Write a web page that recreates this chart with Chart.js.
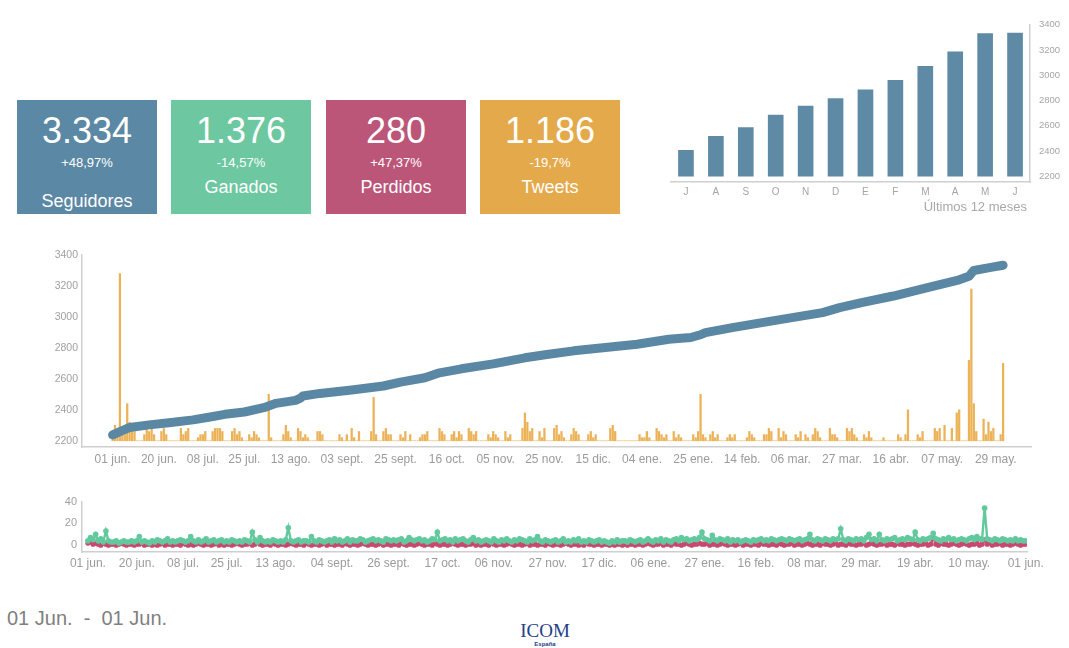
<!DOCTYPE html>
<html>
<head>
<meta charset="utf-8">
<script src="https://cdn.jsdelivr.net/npm/chart.js@4.4.0/dist/chart.umd.min.js"></script>
<style>
  body { margin: 0; width: 1069px; height: 648px; background: #fff; position: relative; overflow: hidden;
         font-family: 'Liberation Sans', Arial, sans-serif; }
  .box { position: absolute; top: 100px; width: 140px; height: 114px; color: #fff; text-align: center; }
  .num { position: absolute; left: 0; right: 0; top: 10px; font-size: 36px; line-height: 42px; }
  .pct { position: absolute; left: 0; right: 0; top: 54px; font-size: 13px; line-height: 18px; }
  .lbl { position: absolute; left: 0; right: 0; top: 76px; font-size: 18px; line-height: 22px; }
  canvas { position: absolute; }
  #range { position: absolute; left: 7px; top: 607px; font-size: 20px; color: #808080; white-space: pre; }
  #logo { position: absolute; left: 505px; top: 621px; width: 80px; text-align: center; color: #23408a; }
  #logo .t { font-family: 'Liberation Serif', 'DejaVu Serif', serif; font-size: 19px; line-height: 20px; }
  #logo .s { font-size: 6px; font-weight: bold; line-height: 7px; }
  #months { position: absolute; right: 42px; top: 199px; font-size: 13px; color: #a8a8a8; }
</style>
</head>
<body>
<div class="box" style="left:17px; background:#5b88a4;">
  <div class="num">3.334</div><div class="pct">+48,97%</div><div class="lbl" style="top:90px;">Seguidores</div>
</div>
<div class="box" style="left:171px; background:#6dc7a0;">
  <div class="num">1.376</div><div class="pct">-14,57%</div><div class="lbl">Ganados</div>
</div>
<div class="box" style="left:326px; background:#bc5679;">
  <div class="num">280</div><div class="pct">+47,37%</div><div class="lbl">Perdidos</div>
</div>
<div class="box" style="left:480px; background:#e4a94b;">
  <div class="num">1.186</div><div class="pct">-19,7%</div><div class="lbl">Tweets</div>
</div>

<canvas id="monthChart" width="409" height="195" style="left:660px; top:10px;"></canvas>
<div id="months">Últimos 12 meses</div>
<canvas id="mainChart" width="1069" height="235" style="left:0; top:240px;"></canvas>
<canvas id="dailyChart" width="1069" height="90" style="left:0; top:490px;"></canvas>

<div id="range">01 Jun.  -  01 Jun.</div>
<div id="logo"><div class="t">ICOM</div><div class="s">España</div></div>

<script>
// last 12 months (followers at month end)
var monthLabels = ['J', 'A', 'S', 'O', 'N', 'D', 'E', 'F', 'M', 'A', 'M', 'J'];
var monthFollowers = [2405, 2515, 2585, 2685, 2755, 2815, 2885, 2960, 3070, 3185, 3330, 3334];
var monthTicks = [2200, 2400, 2600, 2800, 3000, 3200, 3400];

// followers line, sampled (day index from 01 jun.)
var followerDays = [0, 7, 15, 24, 33, 40, 46, 54, 62, 67, 75, 77, 78, 85, 98, 111, 118, 128, 134, 143,
  156, 169, 178, 189, 202, 215, 228, 237, 241, 243, 254, 268, 281, 291, 298, 307, 320, 334, 347, 351,
  353, 360, 365];
var followers = [2238, 2286, 2303, 2318, 2335, 2354, 2371, 2386, 2414, 2442, 2461, 2475, 2489, 2506, 2528, 2554, 2579, 2607, 2639, 2665,
  2697, 2736, 2757, 2781, 2802, 2824, 2856, 2867, 2885, 2899, 2931, 2968, 3002, 3028, 3060, 3093, 3135, 3190, 3240, 3262,
  3300, 3320, 3334];

// tweets per day
var tweets = [
  3,5,2,54,3,2,12,6,4,3,0,0,0,2,4,3,4,2,0,0,
  3,4,2,0,0,0,0,0,4,2,3,4,0,0,0,1,2,2,3,0,
  0,3,4,4,4,3,0,0,0,3,4,2,3,1,0,0,2,1,3,2,
  1,0,0,0,15,1,0,0,0,0,2,5,3,1,0,0,4,3,1,2,
  1,0,0,0,3,3,2,0,0,0,0,0,0,2,1,0,2,0,4,1,
  0,3,0,0,0,0,3,14,2,0,0,3,4,2,2,0,0,0,2,1,
  3,0,2,0,0,0,1,2,2,3,0,0,0,0,4,3,2,0,0,2,
  3,1,3,2,0,0,4,3,2,3,0,0,0,0,2,1,3,2,1,0,
  0,3,1,2,0,0,0,0,4,9,6,3,4,0,0,3,1,4,0,0,
  0,4,5,2,3,1,0,0,2,4,3,2,0,0,0,2,3,1,2,0,
  0,0,0,0,4,5,3,0,0,0,0,0,0,0,0,0,2,1,1,3,
  1,0,0,4,3,2,1,2,0,0,3,1,2,1,0,0,0,0,2,1,
  3,15,2,1,0,2,3,1,2,0,0,0,1,2,1,2,0,0,0,0,
  1,3,2,1,0,0,0,2,2,4,3,0,0,4,1,3,2,0,0,0,
  2,1,3,0,2,1,0,2,4,3,1,0,0,0,4,2,2,1,0,0,
  0,4,3,4,2,1,0,0,2,1,3,1,0,0,0,0,1,0,0,0,
  0,0,2,1,0,2,10,0,0,0,2,1,3,0,0,0,0,4,3,4,
  0,5,0,0,4,0,9,10,0,0,0,26,49,12,3,0,0,7,2,6,
  3,4,0,0,2,25
];

// followers gained / lost per day
var gained = [
  4,7,5,10,4,6,3,13,4,3,3,4,2,3,4,3,3,4,3,4,
  8,3,4,3,2,4,3,5,4,3,4,6,3,4,3,4,5,4,3,4,
  8,4,3,5,3,4,6,3,4,5,3,4,5,3,4,3,5,4,3,4,
  3,5,4,3,12,5,3,7,4,3,4,3,5,4,3,4,3,5,16,4,
  3,4,5,3,4,4,3,8,4,3,5,4,3,4,5,3,6,4,5,3,
  4,6,3,5,4,4,6,5,3,4,5,6,4,5,4,3,6,5,4,5,
  4,5,6,3,4,7,5,4,5,6,4,5,3,4,6,5,12,4,5,6,
  4,5,3,6,4,5,6,4,3,5,7,4,5,3,4,5,4,3,6,4,
  3,5,4,6,4,3,5,4,6,5,4,3,6,4,5,8,4,3,5,4,
  3,4,5,3,4,6,3,4,3,5,4,6,3,4,3,5,4,3,4,5,
  3,4,3,2,4,3,5,3,4,4,3,5,4,3,4,5,3,4,6,4,
  3,5,4,6,3,5,4,3,5,6,4,7,5,6,4,5,6,5,7,12,
  6,5,4,9,5,4,6,5,4,6,3,5,4,5,3,4,5,4,3,5,
  4,5,6,4,5,4,6,5,4,5,6,5,4,6,5,4,5,6,4,5,
  6,10,5,4,6,5,4,6,5,4,6,5,6,15,5,4,6,5,4,6,
  5,6,4,7,10,5,6,4,10,5,4,6,5,6,7,4,5,6,5,7,
  6,5,12,5,4,6,5,6,7,11,6,5,4,6,5,7,5,6,4,5,
  6,5,4,6,7,5,8,6,5,34,6,5,4,6,5,4,6,5,4,5,
  4,6,4,5,4,4
];
var lost = [
  2,3,1,2,1,0,2,1,0,1,1,0,1,2,1,0,1,1,0,1,
  1,2,0,1,1,0,1,0,1,2,0,1,1,0,1,1,0,2,1,0,
  1,0,1,2,1,0,1,1,0,1,2,0,1,0,1,1,0,1,2,1,
  0,1,1,2,0,1,3,1,0,1,1,0,2,1,0,1,1,0,1,2,
  1,0,1,1,0,2,1,0,1,1,0,1,2,0,1,1,0,1,1,0,
  2,1,0,1,1,0,1,2,1,0,1,1,0,1,2,0,1,1,0,1,
  1,0,2,1,0,1,1,0,1,2,1,0,1,1,0,2,1,0,1,1,
  0,1,2,1,0,1,1,0,1,1,2,0,1,0,1,1,0,2,1,0,
  1,1,0,1,2,1,0,1,1,0,1,2,0,1,1,0,1,1,0,2,
  1,0,1,1,0,1,2,1,0,1,1,0,1,0,2,1,1,0,1,1,
  0,1,1,0,1,0,1,1,0,1,0,1,1,0,1,1,0,1,2,1,
  0,1,1,2,0,1,1,0,2,1,1,0,1,2,1,0,1,1,2,1,
  1,2,0,1,1,0,1,2,1,0,1,1,0,1,2,0,1,1,0,1,
  1,0,2,1,1,0,1,1,0,2,1,0,1,1,2,0,1,1,0,1,
  2,1,0,1,1,0,2,1,1,0,1,2,0,1,1,0,2,1,1,0,
  1,1,2,0,1,2,1,0,1,1,2,0,1,1,0,2,1,1,0,1,
  1,2,1,0,1,1,2,0,1,7,1,0,2,1,1,0,1,2,1,0,
  1,2,1,0,1,1,2,0,1,5,1,2,0,1,1,2,0,1,1,0,
  1,2,1,0,1,1
];

var mainTickDays = [0, 19, 37, 54, 73, 94, 116, 137, 157, 177, 197, 217, 238, 258, 278, 299, 319, 340, 362];
var mainTickLabels = ['01 jun.', '20 jun.', '08 jul.', '25 jul.', '13 ago.', '03 sept.', '25 sept.', '16 oct.', '05 nov.', '25 nov.',
  '15 dic.', '04 ene.', '25 ene.', '14 feb.', '06 mar.', '27 mar.', '16 abr.', '07 may.', '29 may.'];
var mainYTicks = [2200, 2400, 2600, 2800, 3000, 3200, 3400];

var dailyTickDays = [0, 19, 37, 54, 73, 95, 117, 138, 158, 179, 199, 219, 240, 260, 280, 301, 322, 343, 365];
var dailyTickLabels = ['01 jun.', '20 jun.', '08 jul.', '25 jul.', '13 ago.', '04 sept.', '26 sept.', '17 oct.', '06 nov.', '27 nov.',
  '17 dic.', '06 ene.', '27 ene.', '16 feb.', '08 mar.', '29 mar.', '19 abr.', '10 may.', '01 jun.'];
var dailyYTicks = [0, 20, 40];

Chart.defaults.font.family = "'Liberation Sans', Arial, sans-serif";
Chart.defaults.color = '#9b9b9b';
Chart.defaults.animation = false;
Chart.defaults.responsive = false;
Chart.defaults.plugins.legend.display = false;
Chart.defaults.plugins.tooltip.enabled = false;

var axisGrey = '#cfcfcf';

function fixedTicks(list) {
  return function (scale) { scale.ticks = list.map(function (v) { return { value: v }; }); };
}
function plain(v) { return String(v); }

// ---- top right: last 12 months ----
new Chart(document.getElementById('monthChart'), {
  type: 'bar',
  data: {
    labels: monthLabels,
    datasets: [{ data: monthFollowers, base: 2200, backgroundColor: '#5f8aa6', barThickness: 15 }]
  },
  options: {
    layout: { padding: { top: 10, left: 11, right: 0, bottom: 0 } },
    scales: {
      x: {
        grid: { display: false, drawTicks: false },
        border: { color: axisGrey, width: 1.5 },
        ticks: { padding: 4, font: { size: 10 }, color: '#a5a5a5' },
        afterFit: function (s) { s.height = 23; }
      },
      y: {
        position: 'right', min: 2154, max: 3400,
        afterBuildTicks: fixedTicks(monthTicks),
        grid: { display: false, drawTicks: false },
        border: { color: axisGrey, width: 1.5 },
        ticks: { padding: 9, font: { size: 9.5 }, color: '#a5a5a5', callback: plain },
        afterFit: function (s) { s.width = 39; }
      }
    }
  }
});

// ---- followers + tweets per day ----
new Chart(document.getElementById('mainChart'), {
  type: 'bar',
  data: {
    datasets: [{
      type: 'line', order: 0,
      data: followerDays.map(function (d, i) { return { x: d, y: followers[i] }; }),
      borderColor: '#5a87a3', borderWidth: 9, pointRadius: 0,
      borderCapStyle: 'round', borderJoinStyle: 'round', yAxisID: 'y'
    }, {
      type: 'bar', order: 1,
      data: tweets.map(function (v, i) { return { x: i, y: v }; }),
      backgroundColor: '#ebb257', barThickness: 1.6, yAxisID: 'yT'
    }]
  },
  options: {
    layout: { padding: { top: 15, left: 0, right: 38, bottom: 0 } },
    scales: {
      x: {
        type: 'linear', min: -2.3, max: 366.2,
        afterBuildTicks: fixedTicks(mainTickDays),
        grid: { display: false, drawTicks: false },
        border: { color: axisGrey, width: 1.5 },
        ticks: { autoSkip: false, maxRotation: 0, padding: 5, font: { size: 12 }, color: '#9b9b9b',
                 callback: function (v, i) { return mainTickLabels[i]; } },
        afterFit: function (s) { s.height = 28; }
      },
      y: {
        min: 2160, max: 3400,
        afterBuildTicks: fixedTicks(mainYTicks),
        grid: { display: false, drawTicks: false },
        border: { color: axisGrey, width: 1.5 },
        ticks: { padding: 4, font: { size: 10.5 }, color: '#a0a0a0', callback: plain },
        afterFit: function (s) { s.width = 82; }
      },
      yT: { display: false, min: -2, max: 60 }
    }
  }
});

// ---- gained / lost per day ----
new Chart(document.getElementById('dailyChart'), {
  type: 'line',
  data: {
    datasets: [{
      order: 0,
      data: gained.map(function (v, i) { return { x: i, y: v }; }),
      borderColor: '#62c89d', backgroundColor: '#62c89d', borderWidth: 2.4,
      pointRadius: 2.8, pointBorderWidth: 0
    }, {
      order: 1,
      data: lost.map(function (v, i) { return { x: i, y: v }; }),
      borderColor: '#c9486f', backgroundColor: '#c9486f', borderWidth: 2.4,
      pointRadius: 2.6, pointBorderWidth: 0
    }]
  },
  options: {
    layout: { padding: { top: 10, left: 0, right: 42, bottom: 0 } },
    scales: {
      x: {
        type: 'linear', min: -2.3, max: 365.5,
        afterBuildTicks: fixedTicks(dailyTickDays),
        grid: { display: false, drawTicks: false },
        border: { color: axisGrey, width: 1.5 },
        ticks: { autoSkip: false, maxRotation: 0, padding: 4, font: { size: 12 }, color: '#9b9b9b',
                 callback: function (v, i) { return dailyTickLabels[i]; } },
        afterFit: function (s) { s.height = 28; }
      },
      y: {
        min: -6.2, max: 40,
        afterBuildTicks: fixedTicks(dailyYTicks),
        grid: { display: false, drawTicks: false },
        border: { color: axisGrey, width: 1.5 },
        ticks: { padding: 5, font: { size: 11 }, color: '#a0a0a0', callback: plain },
        afterFit: function (s) { s.width = 82; }
      }
    }
  }
});
</script>
</body>
</html>
